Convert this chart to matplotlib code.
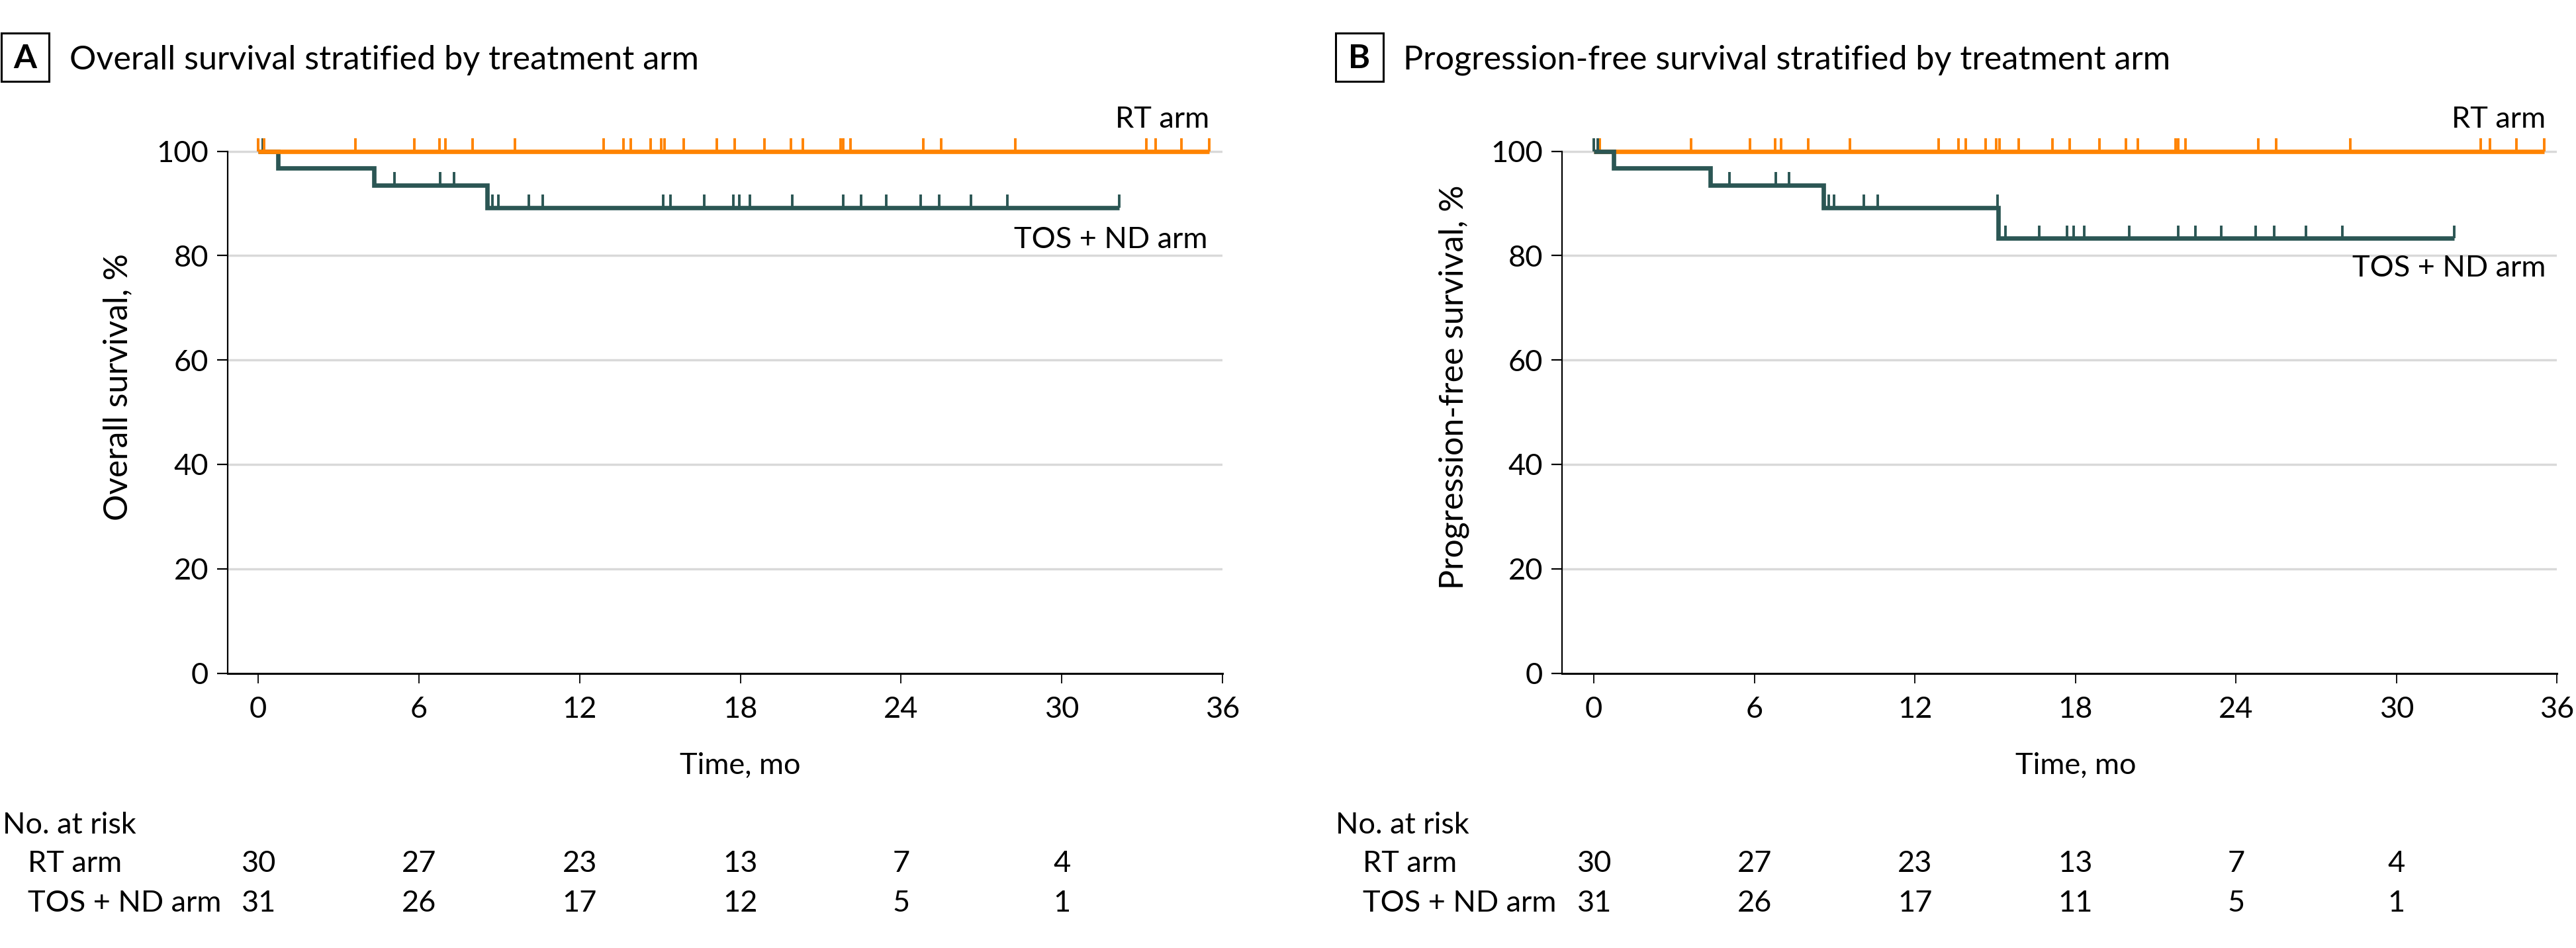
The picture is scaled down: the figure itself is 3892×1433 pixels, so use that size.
import numpy as np
import matplotlib
matplotlib.use("Agg")
import matplotlib.pyplot as plt
from matplotlib.patches import Rectangle
from matplotlib import transforms

plt.rcParams['font.family'] = ['Lato', 'DejaVu Sans']

W, H = 3892, 1433
DPI = 100

# ---------------- data ----------------
time_ticks = [0, 6, 12, 18, 24, 30, 36]
y_ticks = [0, 20, 40, 60, 80, 100]
risk_times = [0, 6, 12, 18, 24, 30]

# RT arm: no events, censoring times (months)
rt_censor = [0.0, 0.21, 3.64, 5.83, 6.78, 7.0, 8.01, 9.58, 12.89, 13.63, 13.91,
             14.65, 15.05, 15.17, 15.88, 17.13, 17.78, 18.9, 19.88, 20.34,
             21.74, 21.83, 22.11, 24.83, 25.49, 28.26, 33.15, 33.5, 34.48, 35.51]
rt_end = 35.51

# TOS + ND arm, overall survival
tos_os_event_times = [0.75, 4.33, 8.56]
tos_os_surv = [96.8, 93.5, 89.2]
tos_os_censor = [0.0, 0.16, 5.08, 6.79, 7.31, 8.75, 8.97, 10.1, 10.62, 15.12, 15.4,
                 16.66, 17.75, 17.97, 18.35, 19.95, 21.83, 22.5, 23.44, 24.73,
                 25.42, 26.6, 27.98, 32.15]
tos_os_end = 32.15

# TOS + ND arm, progression-free survival
tos_pfs_event_times = [0.73, 4.35, 8.58, 15.12]
tos_pfs_surv = [96.8, 93.5, 89.2, 83.3]
tos_pfs_censor = [0.0, 0.16, 5.06, 6.79, 7.3, 8.77, 8.97, 10.1, 10.6, 15.08, 15.39,
                  16.64, 17.69, 17.93, 18.33, 20.0, 21.83, 22.48, 23.45, 24.74,
                  25.42, 26.61, 27.97, 32.15]
tos_pfs_end = 32.15

risk_rt_os = [30, 27, 23, 13, 7, 4]
risk_tos_os = [31, 26, 17, 12, 5, 1]
risk_rt_pfs = [30, 27, 23, 13, 7, 4]
risk_tos_pfs = [31, 26, 17, 11, 5, 1]

arm_labels = ["RT arm", "TOS + ND arm"]
panel_titles = ["Overall survival stratified by treatment arm",
                "Progression-free survival stratified by treatment arm"]
y_labels = ["Overall survival, %", "Progression-free survival, %"]
panel_letters = ["A", "B"]

# ---------------- style ----------------
ORANGE = "#FF8300"
TEAL = "#2B5654"
GRID = "#D9D9D9"
FS = 32.5
FS_YLAB = 36
FS_TITLE = 36.3
LW = 4.8
CENS_LW = 2.8
CENS_H = 2.5

fig = plt.figure(figsize=(W / DPI, H / DPI), dpi=DPI)
fig.patch.set_facecolor("white")


def fx(px):
    return px / W


def fy(py):
    return 1 - py / H


def level_at(t, event_times, surv):
    levels = [100.0] + list(surv)
    idx = np.searchsorted(event_times, t, side='right')
    return levels[idx]


panels = [
    dict(left=343.5, xmin=-1.15, pxm=40.47, rt=risk_rt_os, tos=risk_tos_os,
         ev=tos_os_event_times, sv=tos_os_surv, cens=tos_os_censor, end=tos_os_end,
         orange_top=True, box_left=2, title_x=105, ylab_x=178,
         table_left=4, arm_left=42, tos_lab_y=81.4, rt_lab_x=35.5, tos_lab_x=35.45),
    dict(left=2359.5, xmin=-1.2, pxm=40.43, rt=risk_rt_pfs, tos=risk_tos_pfs,
         ev=tos_pfs_event_times, sv=tos_pfs_surv, cens=tos_pfs_censor, end=tos_pfs_end,
         orange_top=False, box_left=2018, title_x=2120, ylab_x=2197,
         table_left=2018, arm_left=2059, tos_lab_y=76.0, rt_lab_x=35.57, tos_lab_x=35.57),
]

y0_px = 1017.6
ppct = 7.891
ytop = 103

for i, p in enumerate(panels):
    width_px = (36 - p['xmin']) * p['pxm']
    height_px = ytop * ppct
    ax = fig.add_axes([fx(p['left']), (H - y0_px) / H, width_px / W, height_px / H])
    ax.set_xlim(p['xmin'], 36)
    ax.set_ylim(0, ytop)

    # grid
    for yv in y_ticks[1:]:
        ax.axhline(yv, color=GRID, lw=2.5, zorder=1)

    zo_or = 4 if p['orange_top'] else 3
    zo_te = 3 if p['orange_top'] else 4

    # RT arm
    ax.step([0, rt_end], [100, 100], where='post', color=ORANGE, lw=LW,
            zorder=zo_or, solid_capstyle='butt')
    ax.vlines(rt_censor, 100, 100 + CENS_H, color=ORANGE, lw=CENS_LW, zorder=zo_or)

    # TOS + ND arm
    xs = [0] + list(p['ev']) + [p['end']]
    ys = [100] + list(p['sv']) + [p['sv'][-1]]
    ax.step(xs, ys, where='post', color=TEAL, lw=LW, zorder=zo_te,
            solid_capstyle='butt', solid_joinstyle='miter')
    lv = [level_at(t, p['ev'], p['sv']) for t in p['cens']]
    ax.vlines(p['cens'], lv, np.array(lv) + CENS_H, color=TEAL, lw=CENS_LW, zorder=zo_te)

    # curve labels
    ax.text(p['rt_lab_x'], 104.5, arm_labels[0], ha='right', va='baseline',
            fontsize=FS, color='black', clip_on=False)
    ax.text(p['tos_lab_x'], p['tos_lab_y'], arm_labels[1], ha='right', va='baseline',
            fontsize=FS, color='black', clip_on=False)

    # axes styling
    for s in ['top', 'right']:
        ax.spines[s].set_visible(False)
    ax.spines['left'].set_bounds(0, 100)
    ax.spines['left'].set_linewidth(1.6)
    ax.spines['bottom'].set_linewidth(2.2)
    ax.spines['bottom'].set_bounds(p['xmin'], 36)
    ax.set_xticks(time_ticks)
    ax.set_xticklabels([str(t) for t in time_ticks], fontsize=FS)
    ax.set_yticks(y_ticks)
    ax.set_yticklabels([str(t) for t in y_ticks], fontsize=FS)
    ax.tick_params(axis='x', length=11, width=1.3, pad=14, direction='out')
    ax.tick_params(axis='y', length=11.5, width=1.6, pad=9, direction='out')

    # x label
    tr = transforms.blended_transform_factory(ax.transData, fig.transFigure)
    ax.text(18, fy(1170), "Time, mo", ha='center', va='baseline', fontsize=FS,
            transform=tr)

    # y label
    fig.text(fx(p['ylab_x']), fy(585), y_labels[i], rotation=90, ha='center',
             va='center', fontsize=FS_YLAB)

    # panel box + title
    fig.patches.append(Rectangle((fx(p['box_left']), fy(123)), fx(72), 73 / H,
                                 transform=fig.transFigure, fill=False,
                                 edgecolor='black', lw=2.2))
    fig.text(fx(p['box_left'] + 36), fy(103), panel_letters[i], ha='center',
             va='baseline', fontsize=FS_TITLE, fontweight='bold')
    fig.text(fx(p['title_x']), fy(105), panel_titles[i], ha='left',
             va='baseline', fontsize=FS_TITLE)

    # at-risk table
    fig.text(fx(p['table_left']), fy(1260), "No. at risk", ha='left',
             va='baseline', fontsize=FS)
    fig.text(fx(p['arm_left']), fy(1318), arm_labels[0], ha='left',
             va='baseline', fontsize=FS)
    fig.text(fx(p['arm_left']), fy(1378), arm_labels[1], ha='left',
             va='baseline', fontsize=FS)
    for t, n in zip(risk_times, p['rt']):
        ax.text(t, fy(1318), str(n), ha='center', va='baseline', fontsize=FS,
                transform=tr)
    for t, n in zip(risk_times, p['tos']):
        ax.text(t, fy(1378), str(n), ha='center', va='baseline', fontsize=FS,
                transform=tr)

fig.savefig("out.png", dpi=DPI, facecolor='white')
